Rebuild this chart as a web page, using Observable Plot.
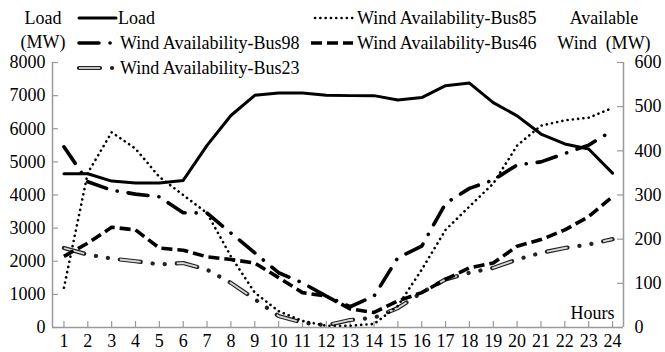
<html>
<head>
<script src="https://cdn.jsdelivr.net/npm/d3@7"></script>
<script src="https://cdn.jsdelivr.net/npm/@observablehq/plot@0.6"></script>
</head>
<body style="margin:0;padding:0;background:#fff;">
<div id="wrap" style="position:relative;width:665px;height:352px;font-family:'Liberation Serif',serif;font-size:18px;color:#000;"></div>
<script>
// ---- data ----
const hours = [1,2,3,4,5,6,7,8,9,10,11,12,13,14,15,16,17,18,19,20,21,22,23,24];
const load  = [4640,4640,4420,4360,4360,4440,5500,6400,7010,7080,7080,7010,7000,7000,6870,6940,7300,7380,6790,6390,5840,5540,5390,4660];
const bus85 = [90,350,442,405,341,300,259,161,79,37,15,4,4,8,49,131,221,274,326,412,457,469,475,497];
const bus98 = [409,330,311,302,296,260,259,214,169,124,101,71,47,71,158,184,281,315,334,368,375,394,413,446];
const bus46 = [161,191,227,221,180,175,160,154,146,113,79,71,42,34,60,79,109,135,146,184,199,221,251,296];
const bus23 = [180,165,156,150,143,146,131,101,64,26,11,5,17,22,44,79,109,124,135,154,169,180,188,200];
const loadTicks = [0,1000,2000,3000,4000,5000,6000,7000,8000];
const windTicks = [0,100,200,300,400,500,600];
const xDomain = [0.52, 24.46];
const loadMax = 8000, windMax = 600;
const k = loadMax / windMax; // wind -> load-axis units

const series = [
  {name: "Load", values: load, wind: false},
  {name: "Wind Availability-Bus98", values: bus98, wind: true},
  {name: "Wind Availability-Bus23", values: bus23, wind: true},
  {name: "Wind Availability-Bus85", values: bus85, wind: true},
  {name: "Wind Availability-Bus46", values: bus46, wind: true}
];

// ---- styles ----
const styles = {
  "Load": [{stroke: "#000", strokeWidth: 3, dash: null, cap: "round"}],
  "Wind Availability-Bus98": [{stroke: "#000", strokeWidth: 3.6, dash: "20,11,0.1,11", cap: "round"}],
  "Wind Availability-Bus23": [
    {stroke: "#222", strokeWidth: 4.2, dash: "21,12,0.1,12,0.1,12", cap: "round"},
    {stroke: "#d8d8d8", strokeWidth: 1.8, dash: "21,36.2", cap: "butt"}
  ],
  "Wind Availability-Bus85": [{stroke: "#000", strokeWidth: 2.6, dash: "0.1,5.2", cap: "round"}],
  "Wind Availability-Bus46": [{stroke: "#000", strokeWidth: 3.6, dash: "11,5", cap: "butt"}]
};

const W = 665, H = 352;
const mT = 62, mR = 42, mB = 25, mL = 52;
const plotW = W - mL - mR, plotH = H - mT - mB;
const axisColor = "#9a9a9a";
const fontCss = "'Liberation Serif', serif";

const lineMarks = [];
for (const s of series) {
  const rows = hours.map((h, i) => ({h, v: s.wind ? s.values[i] * k : s.values[i]}));
  for (const st of styles[s.name]) {
    lineMarks.push(Plot.line(rows, {
      x: "h", y: "v", stroke: st.stroke, strokeWidth: st.strokeWidth,
      strokeDasharray: st.dash || undefined, strokeLinecap: st.cap, strokeLinejoin: "round"
    }));
  }
}

const chart = Plot.plot({
  width: W, height: H,
  marginTop: mT, marginRight: mR, marginBottom: mB, marginLeft: mL,
  style: {fontFamily: fontCss, fontSize: "18px", color: "#000", background: "transparent", overflow: "visible"},
  x: {domain: xDomain, axis: null},
  y: {domain: [0, loadMax], axis: null},
  marks: [
    Plot.ruleY([0], {stroke: axisColor, strokeWidth: 1.5}),
    Plot.ruleX(xDomain, {stroke: axisColor, strokeWidth: 1.5}),
    Plot.tickY(loadTicks, {y: d => d, stroke: axisColor, strokeWidth: 1.2, insetRight: plotW - 6}),
    Plot.tickY(windTicks, {y: d => d * k, stroke: axisColor, strokeWidth: 1.2, insetLeft: plotW - 6}),
    Plot.tickX(hours, {x: d => d, stroke: axisColor, strokeWidth: 1.2, insetTop: plotH - 6}),
    Plot.axisY(loadTicks, {anchor: "left", label: null, tickSize: 0, tickPadding: 7, fontSize: 18, fill: "#000",
      tickFormat: d3.format("d")}),
    Plot.axisY(windTicks.map(d => d * k), {anchor: "right", label: null, tickSize: 0, tickPadding: 11, fontSize: 18, fill: "#000",
      tickFormat: d => String(Math.round(d / k))}),
    Plot.axisX(hours, {anchor: "bottom", label: null, tickSize: 0, tickPadding: 7, fontSize: 18, fill: "#000",
      tickFormat: d3.format("d")}),
    Plot.text(["Hours"], {frameAnchor: "bottom-right", dx: -9, dy: -14, textAnchor: "end", lineAnchor: "middle",
      fontSize: 18, fill: "#000"}),
    ...lineMarks
  ]
});
chart.style.position = "absolute"; chart.style.left = "0px"; chart.style.top = "0px";
d3.select(chart).selectAll("text, g").attr("font-family", "serif").style("font-family", fontCss);
document.getElementById("wrap").appendChild(chart);

// ---- legend samples (svg) + legend/axis-title text (html) ----
const wrap = d3.select("#wrap");
const leg = wrap.append("svg").attr("width", W).attr("height", H)
  .style("position", "absolute").style("left", "0px").style("top", "0px").style("pointer-events", "none");

function label(text, x, y, anchor) {
  const el = wrap.append("div").text(text)
    .attr("style", "position:absolute;white-space:pre;line-height:1;font-family:'Liberation Serif',serif;font-size:18px;");
  const r = el.node().getBoundingClientRect();
  const left = anchor === "middle" ? x - r.width / 2 : x;
  el.style("left", left + "px").style("top", (y - r.height / 2) + "px");
}
label("Load", 43, 18, "middle");
label("(MW)", 43, 42, "middle");
label("Available", 604, 18, "middle");
label("Wind  (MW)", 604, 43, "middle");

const legendItems = [
  {name: "Load", x1: 79, x2: 116, y: 18, tx: 118},
  {name: "Wind Availability-Bus98", x1: 79, x2: 116, y: 43, tx: 120},
  {name: "Wind Availability-Bus23", x1: 79, x2: 116, y: 68, tx: 120},
  {name: "Wind Availability-Bus85", x1: 315, x2: 353, y: 18, tx: 357},
  {name: "Wind Availability-Bus46", x1: 311, x2: 353, y: 43, tx: 357}
];
for (const it of legendItems) {
  for (const st of styles[it.name]) {
    leg.append("line").attr("x1", it.x1).attr("x2", it.x2).attr("y1", it.y).attr("y2", it.y)
      .attr("stroke", st.stroke).attr("stroke-width", st.strokeWidth)
      .attr("stroke-dasharray", st.dash).attr("stroke-linecap", st.cap);
  }
  label(it.name, it.tx, it.y, "start");
}
</script>
</body>
</html>
